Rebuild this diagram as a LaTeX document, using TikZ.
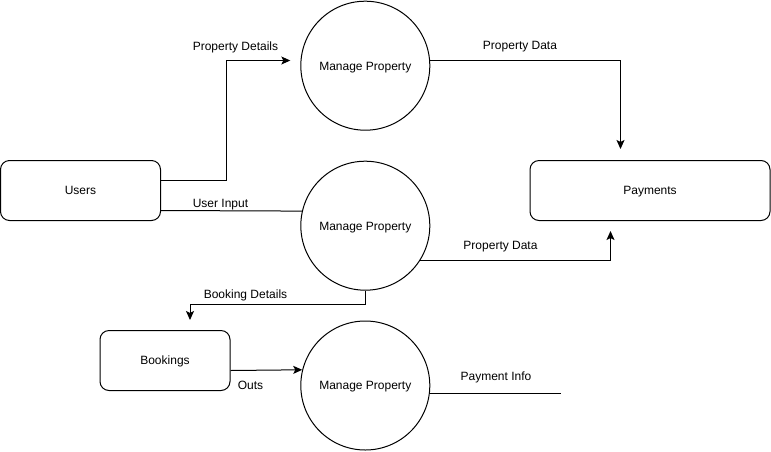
\documentclass[tikz,border=0pt]{standalone}
\usepackage{fontspec}
\setmainfont{Liberation Sans}
\usetikzlibrary{arrows.meta}
\begin{document}
\begin{tikzpicture}[x=1pt,y=-1pt,
  every node/.style={font=\fontsize{12}{14}\selectfont},
  proc/.style={draw, circle, line width=1pt, minimum size=129pt, inner sep=0pt, text height=8.6pt, text depth=0pt},
  store/.style={draw, rounded corners=9pt, line width=1pt, inner sep=0pt, text height=8.6pt, text depth=0pt},
  flow/.style={line width=1pt},
  arr/.style={flow, -{Stealth[length=9pt,width=8pt,inset=2pt]}},
  lbl/.style={inner sep=0pt}]
\useasboundingbox (0,0) rectangle (771,451);
% nodes
\node[store, minimum width=160pt, minimum height=60pt] (users) at (80.5,190.5) {Users};
\node[store, minimum width=240pt, minimum height=60pt] (pay) at (650,190.5) {Payments};
\node[store, minimum width=130pt, minimum height=60pt] (book) at (165,360.5) {Bookings};
\node[proc] (mp1) at (365.3,65.7) {Manage Property};
\node[proc] (mp2) at (365.3,225.7) {Manage Property};
\node[proc] (mp3) at (365.3,385.5) {Manage Property};
\coordinate (pend) at (561,393);
% connectors
\draw[arr, shorten >=10pt] ([yshift=10pt]users.east) -- (226,180.5) |- (mp1.west |- 0,60.5);
\draw[flow] ([yshift=-20pt]users.east) -- (mp2.167);
\draw[arr, shorten >=11pt] (mp1.5) -| ([xshift=-29.5pt]pay.north);
\draw[arr, shorten >=10pt] (mp2.-32) -| ([xshift=-39.5pt]pay.south);
\draw[arr, shorten >=10pt] (mp2.south) -- ++(0,14) -| ([xshift=25pt]book.north);
\draw[arr] ([yshift=-10pt]book.east) -- (mp3.166);
\draw[flow] (mp3.-7) -- (mp3.-7 -| pend);
% labels
\node[lbl] (l1) at (235.5,47) {Property Details};
\node[lbl] (l2) at (220.5,205) {User Input};
\node[lbl] (l3) at (520,47) {Property Data};
\node[lbl] (l4) at (500.5,247) {Property Data};
\node[lbl] (l5) at (245.5,295) {Booking Details};
\node[lbl] (l6) at (250.5,385) {Outs};
\node[lbl] (l7) at (496,377) {Payment Info};
\end{tikzpicture}
\end{document}
